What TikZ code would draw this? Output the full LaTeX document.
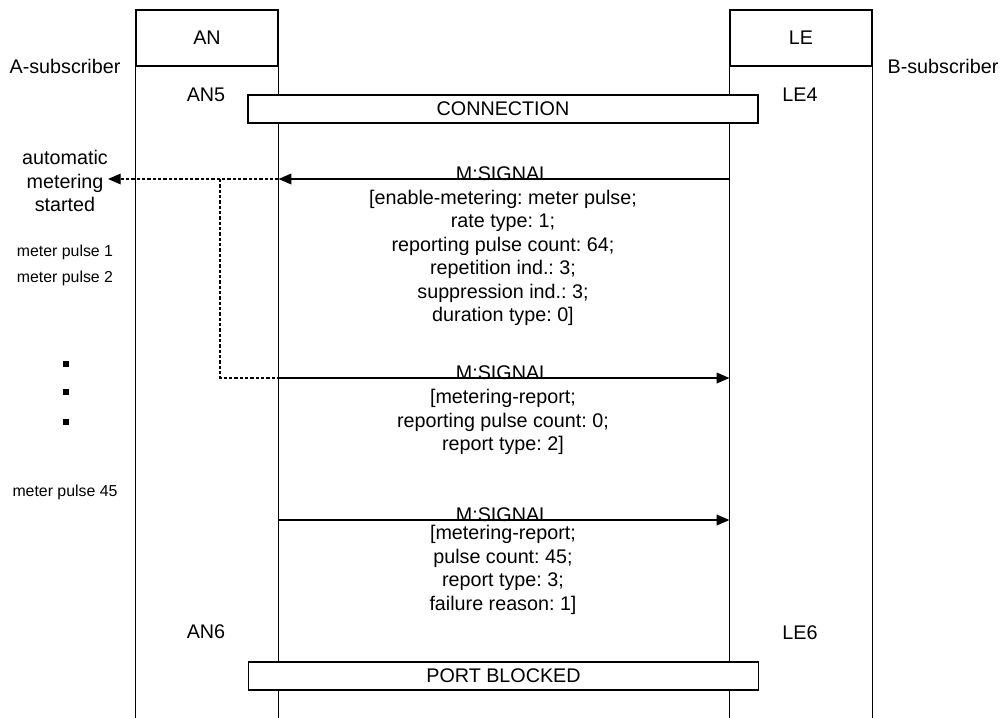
\documentclass[tikz,border=0pt]{standalone}
\usepackage{fontspec}
\setmainfont{Liberation Sans}
\usetikzlibrary{arrows.meta}
\frenchspacing
\begin{document}
\frenchspacing
\begin{tikzpicture}[x=0.75pt,y=-0.75pt,
  every node/.style={font=\fontsize{14.8}{17.6}\selectfont\frenchspacing},
  hdr/.style={draw,line width=0.9pt,minimum width=106.5pt,minimum height=42pt,inner sep=0pt},
  bar/.style={draw,fill=white,line width=0.9pt,minimum width=382.5pt,minimum height=21pt,inner sep=0pt},
  lbl/.style={inner sep=0pt},
  small/.style={inner sep=0pt,font=\fontsize{11.9}{14}\selectfont},
  msg/.style={inner sep=0pt,align=center},
  life/.style={line width=0.9pt},
  sig/.style={line width=0.9pt,-{Triangle[length=9.5pt,width=8pt]}},
  dsig/.style={line width=0.9pt,dash pattern=on 2.5pt off 1.5pt},
  dotbox/.style={fill=black,inner sep=0pt,minimum size=5.2pt}
]
\useasboundingbox[fill=white] (0,0) rectangle (1001,718);
\coordinate (bot) at (0,718);
\coordinate (y1) at (0,179);
\coordinate (y2) at (0,378);
\coordinate (y3) at (0,520);

% headers
\node[hdr] (AN) at (207,38) {AN};
\node[hdr] (LE) at (801,38) {LE};
\node[lbl] (asub) at (65,66) {A-subscriber};
\node[lbl] (bsub) at (943,66) {B-subscriber};

% lifelines
\draw[life] (AN.south west) -- (AN.south west |- bot);
\draw[life] (AN.south east) -- (AN.south east |- bot);
\draw[life] (LE.south west) -- (LE.south west |- bot);
\draw[life] (LE.south east) -- (LE.south east |- bot);

% states
\node[lbl] (an5) at (206,95) {AN5};
\node[lbl] (le4) at (800,95) {LE4};
\node[lbl] (an6) at (206,632) {AN6};
\node[lbl] (le6) at (800,633) {LE6};
\node[bar] (conn) at (503,109) {CONNECTION};
\node[bar] (pb) at (503.5,676) {PORT BLOCKED};

% left side labels
\node[msg] (auto) at (65,181) {automatic\\metering\\started};
\node[small] (mp1) at (65,252) {meter pulse 1};
\node[small] (mp2) at (65,278) {meter pulse 2};
\node[dotbox] (d1) at (66,364) {};
\node[dotbox] (d2) at (66,392) {};
\node[dotbox] (d3) at (66,422) {};
\node[small] (mp45) at (65,492) {meter pulse 45};

% message 1
\draw[sig] (LE.south west |- y1) -- (AN.south east |- y1);
\draw[dsig,-{Triangle[length=9.5pt,width=8pt]}] (AN.south east |- y1) -- (auto.east |- y1);
\coordinate (split) at (220,179);
\draw[dsig] (split) |- (AN.south east |- y2);
\node[lbl,anchor=base] (s1) at (503,180) {M:SIGNAL};
\node[msg] (p1) at (503,258) {[enable-metering: meter pulse;\\rate type: 1;\\reporting pulse count: 64;\\repetition ind.: 3;\\suppression ind.: 3;\\duration type: 0]};

% message 2
\draw[sig] (AN.south east |- y2) -- (LE.south west |- y2);
\node[lbl,anchor=base] (s2) at (503,379) {M:SIGNAL};
\node[msg] (p2) at (503,422) {[metering-report;\\reporting pulse count: 0;\\report type: 2]};

% message 3
\draw[sig] (AN.south east |- y3) -- (LE.south west |- y3);
\node[lbl,anchor=base] (s3) at (503,521) {M:SIGNAL};
\node[msg] (p3) at (503,570) {[metering-report;\\pulse count: 45;\\report type: 3;\\failure reason: 1]};
\end{tikzpicture}
\end{document}
